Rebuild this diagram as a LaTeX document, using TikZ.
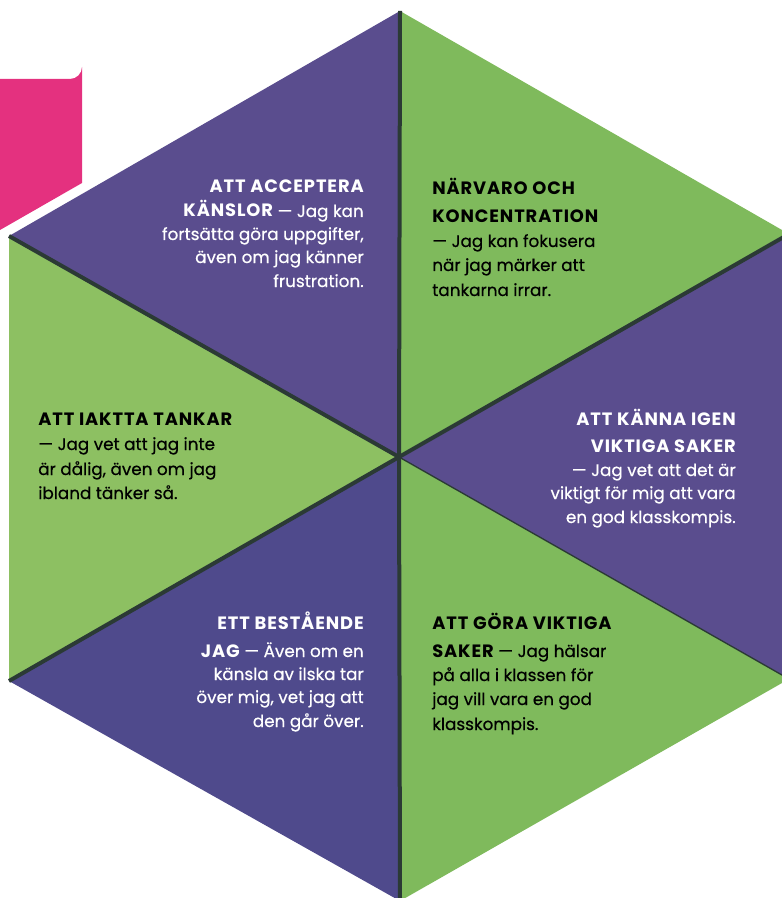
\documentclass[tikz,border=0pt]{standalone}
\usepackage{fontspec}
\setmainfont{Poppins}[FakeBold=0.5]
\newfontfamily\hdfont[LetterSpace=5.0]{Poppins}
\definecolor{purp}{HTML}{5A4D8E}
\definecolor{purpb}{HTML}{4F4A8C}
\definecolor{grnl}{HTML}{8DC062}
\definecolor{grnr}{HTML}{7FBA5C}
\definecolor{pinkc}{HTML}{E4317F}
\definecolor{divc}{HTML}{2B3A35}
\newcommand{\hd}[1]{{\hdfont\bfseries\fontsize{13.4}{15}\selectfont #1}}
\tikzset{
  txt/.style={inner sep=0pt, font=\fontsize{12.6}{15}\selectfont},
  lt/.style={txt, text=white, anchor=base east},
  dk/.style={txt, text=black, anchor=base west},
  divline/.style={draw=divc, line width=3pt},
  thinline/.style={draw=divc, line width=1pt}
}
\begin{document}
\begin{tikzpicture}[x=0.75pt,y=-0.75pt]
\useasboundingbox (0,0) rectangle (781,898);
% pink tab
\fill[pinkc] (0,79) -- (70,79) arc[start angle=90,end angle=0,radius=12] -- (82,183) -- (0,230) -- cycle;
% hexagon points
\coordinate (T) at (400,11);
\coordinate (UR) at (789,234);
\coordinate (LR) at (789,679);
\coordinate (B) at (400,901);
\coordinate (LL) at (9,681);
\coordinate (UL) at (9,236);
\coordinate (C) at (399,457);
% triangles
\fill[purp] (C) -- (T) -- (UL) -- cycle;
\fill[grnr] (C) -- (T) -- (UR) -- cycle;
\fill[purp] (C) -- (UR) -- (LR) -- cycle;
\fill[grnr] (C) -- (LR) -- (B) -- cycle;
\fill[purpb] (C) -- (B) -- (LL) -- cycle;
\fill[grnl] (C) -- (LL) -- (UL) -- cycle;
% dividers
\draw[divline] (C) -- (T);
\draw[divline] (C) -- (UL);
\draw[divline] (C) -- (LL);
\draw[divline] (C) -- (UR);
\draw[divline] (C) -- (B);
\draw[thinline] (C) -- (LR);
% block 1
\node[lt] (a1) at (364,193) {\hd{ATT ACCEPTERA}};
\node[lt] (a2) at (364,217) {\hd{KÄNSLOR} — Jag kan};
\node[lt] (a3) at (364,240) {fortsätta göra uppgifter,};
\node[lt] (a4) at (364,263) {även om jag känner};
\node[lt] (a5) at (364,287) {frustration.};
% block 2
\node[dk] (b1) at (432,195) {\hd{NÄRVARO OCH}};
\node[dk] (b2) at (432,223) {\hd{KONCENTRATION}};
\node[dk] (b3) at (432,247) {— Jag kan fokusera};
\node[dk] (b4) at (432,271) {när jag märker att};
\node[dk] (b5) at (432,296) {tankarna irrar.};
% block 3
\node[lt] (c1) at (736,425) {\hd{ATT KÄNNA IGEN}};
\node[lt] (c2) at (736,452) {\hd{VIKTIGA SAKER}};
\node[lt] (c3) at (736,476) {— Jag vet att det är};
\node[lt] (c4) at (736,499) {viktigt för mig att vara};
\node[lt] (c5) at (736,523) {en god klasskompis.};
% block 4
\node[dk] (d1) at (38,425) {\hd{ATT IAKTTA TANKAR}};
\node[dk] (d2) at (38,450) {— Jag vet att jag inte};
\node[dk] (d3) at (38,475) {är dålig, även om jag};
\node[dk] (d4) at (38,499) {ibland tänker så.};
% block 5
\node[lt] (e1) at (364,629) {\hd{ETT BESTÅENDE}};
\node[lt] (e2) at (364,657) {\hd{JAG} — Även om en};
\node[lt] (e3) at (364,680) {känsla av ilska tar};
\node[lt] (e4) at (364,703) {över mig, vet jag att};
\node[lt] (e5) at (364,727) {den går över.};
% block 6
\node[dk] (f1) at (432,629) {\hd{ATT GÖRA VIKTIGA}};
\node[dk] (f2) at (432,657) {\hd{SAKER} — Jag hälsar};
\node[dk] (f3) at (432,681) {på alla i klassen för};
\node[dk] (f4) at (432,705) {jag vill vara en god};
\node[dk] (f5) at (432,730) {klasskompis.};
\end{tikzpicture}
\end{document}
